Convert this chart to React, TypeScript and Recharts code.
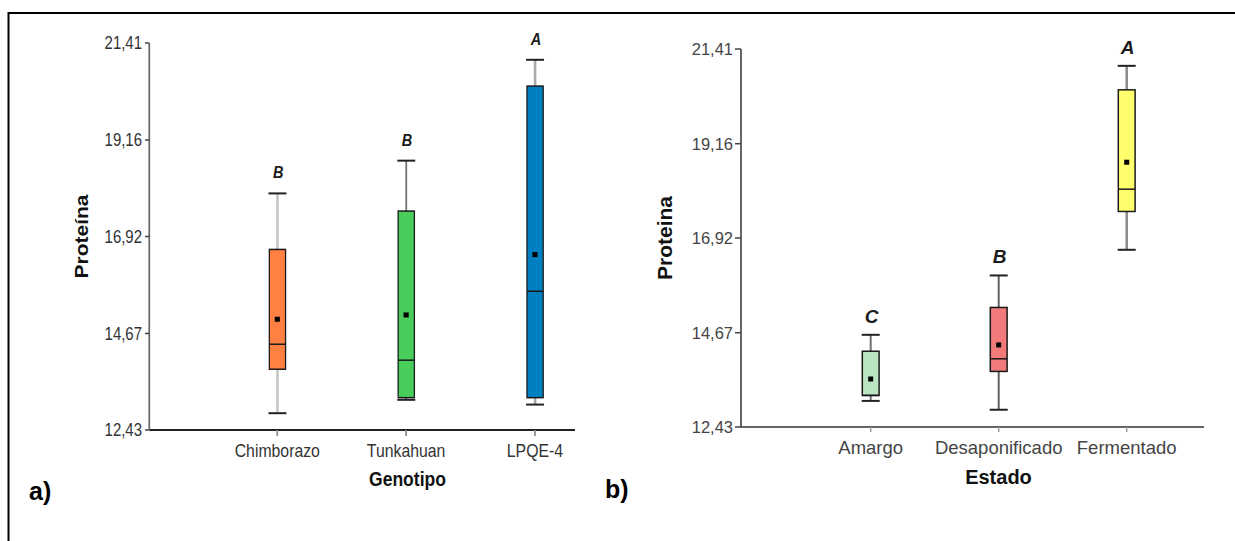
import React from 'react';
import { ComposedChart, Bar, Scatter, XAxis, YAxis, LabelList, Label } from 'recharts';

// ---------- data ----------
const yTicks = [12.43, 14.67, 16.92, 19.16, 21.41];

const genotipos = ['Chimborazo', 'Tunkahuan', 'LPQE-4'];
const genMin = [12.82, 13.13, 13.02];
const genQ1 = [13.84, 13.18, 13.18];
const genMedian = [14.42, 14.05, 15.65];
const genQ3 = [16.62, 17.51, 20.41];
const genMax = [17.92, 18.68, 21.02];
const genMean = [15.0, 15.1, 16.5];
const genLetters = ['B', 'B', 'A'];

const estados = ['Amargo', 'Desaponificado', 'Fermentado'];
const estMin = [13.05, 12.84, 16.64];
const estQ1 = [13.18, 13.75, 17.55];
const estMedian = [13.18, 14.05, 18.08];
const estQ3 = [14.23, 15.27, 20.44];
const estMax = [14.62, 16.03, 21.01];
const estMean = [13.57, 14.38, 18.72];
const estLetters = ['C', 'B', 'A'];

// ---------- styles ----------
const genFill = ['#FF8040', '#48CC5A', '#0080C0'];
const genWhisker = ['#c4c4c4', '#6e6e6e', '#a8a8a8'];
const genWhiskerW = [3, 2, 3];
const estFill = ['#B9E4C2', '#F27A7A', '#FFFF6E'];
const estWhisker = ['#707070', '#606060', '#8a8a8a'];
const estWhiskerW = [2, 2, 2.5];

const fmt = (v: number) => v.toFixed(2).replace('.', ',');

function buildRows(
  cats: string[], mins: number[], q1: number[], med: number[], q3: number[],
  maxs: number[], means: number[], letters: string[]
) {
  return cats.map((c, i) => ({
    cat: c, min: mins[i], q1: q1[i], median: med[i], q3: q3[i], max: maxs[i],
    mean: means[i], letter: letters[i], idx: i,
  }));
}

const genRows = buildRows(genotipos, genMin, genQ1, genMedian, genQ3, genMax, genMean, genLetters);
const estRows = buildRows(estados, estMin, estQ1, estMedian, estQ3, estMax, estMean, estLetters);

const makeBoxShape = (fills: string[], whiskers: string[], whiskerW: number[], inset: number) =>
  (props: any) => {
    const { x, y, width, height, payload } = props;
    const i = payload.idx;
    const h = Math.abs(height);
    const top = height >= 0 ? y : y + height;
    const ppu = h / (payload.max - payload.min);
    const yOf = (v: number) => top + (payload.max - v) * ppu;
    const cx = x + width / 2;
    const yMax = yOf(payload.max);
    const yMin = yOf(payload.min);
    const yQ3 = yOf(payload.q3);
    const yQ1 = yOf(payload.q1);
    const yMed = yOf(payload.median);
    return (
      <g>
        <line x1={cx} x2={cx} y1={yMax} y2={yQ3} stroke={whiskers[i]} strokeWidth={whiskerW[i]} />
        <line x1={cx} x2={cx} y1={yQ1} y2={yMin} stroke={whiskers[i]} strokeWidth={whiskerW[i]} />
        <line x1={x} x2={x + width} y1={yMax} y2={yMax} stroke="#222" strokeWidth={2} />
        <line x1={x} x2={x + width} y1={yMin} y2={yMin} stroke="#222" strokeWidth={2} />
        <rect x={x + inset} y={yQ3} width={width - 2 * inset} height={yQ1 - yQ3}
          fill={fills[i]} stroke="#1a1a1a" strokeWidth={1.5} />
        <line x1={x + inset} x2={x + width - inset} y1={yMed} y2={yMed} stroke="#1a1a1a" strokeWidth={1.5} />
      </g>
    );
  };

const meanShape = (w: number) => (p: any) => (
  <rect x={p.cx - w / 2} y={p.cy - 2.5} width={w} height={5} fill="#000" />
);

const letterContent = (size: number, lift: number) => (p: any) => (
  <text x={p.x + p.width / 2 + 1} y={p.y - lift} textAnchor="middle" fontSize={size}
    fontStyle="italic" fontWeight="bold" fill="#1c1c1c">{p.value}</text>
);

export default function App() {
  return (
    <div style={{ position: 'relative', width: 1235, height: 541, overflow: 'hidden', background: '#fff',
      fontFamily: '"Liberation Sans", Arial, Helvetica, sans-serif' }}>
      <style>{'body{margin:0;}'}</style>

      {/* Left panel (horizontally condensed like the reference) */}
      <div style={{ position: 'absolute', left: 0, top: 0, width: 700, height: 541,
        transform: 'scaleX(0.855)', transformOrigin: '0 0' }}>
        <ComposedChart width={700} height={541} data={genRows}
          margin={{ top: 43, right: 27.5, bottom: 0, left: 0 }}>
          <XAxis dataKey="cat" type="category" height={111} interval={0}
            padding={{ left: 74.4, right: -28.5 }} tickSize={6} tickMargin={8}
            axisLine={{ stroke: '#222', strokeWidth: 2 }}
            tickLine={{ stroke: '#8a8a8a', strokeWidth: 2 }}
            tick={{ fontSize: 18.5, fill: '#333' }}>
            <Label content={(p: any) => (
              <text x={p.viewBox.x + 302} y={p.viewBox.y + 56} textAnchor="middle"
                fontSize={20.5} fontWeight="bold" fill="#111">Genotipo</text>
            )} />
          </XAxis>
          <YAxis type="number" domain={[12.43, 21.41]} ticks={yTicks} tickFormatter={fmt}
            interval={0} width={174.6} tickSize={5} tickMargin={3.5}
            axisLine={{ stroke: '#666', strokeWidth: 2 }}
            tickLine={{ stroke: '#444', strokeWidth: 1.5 }}
            tick={{ fontSize: 17.5, fill: '#333' }}>
            <Label content={(p: any) => {
              const cy = p.viewBox.y + p.viewBox.height / 2;
              return (
                <text x={103.3} y={cy} transform={`rotate(-90, 103.3, ${cy})`} textAnchor="middle"
                  fontSize={21} fontWeight="bold" fill="#111">Proteína</text>
              );
            }} />
          </YAxis>
          <Bar dataKey={(d: any) => [d.min, d.max]} barSize={21} isAnimationActive={false}
            shape={makeBoxShape(genFill, genWhisker, genWhiskerW, 1)}>
            <LabelList dataKey="letter" content={letterContent(17, 15)} />
          </Bar>
          <Scatter dataKey="mean" isAnimationActive={false} shape={meanShape(6)} />
        </ComposedChart>
      </div>

      {/* Right panel */}
      <div style={{ position: 'absolute', left: 615, top: 0, width: 620, height: 541 }}>
        <ComposedChart width={620} height={541} data={estRows}
          margin={{ top: 49, right: 31, bottom: 0, left: 0 }}>
          <XAxis dataKey="cat" type="category" height={114} interval={0}
            padding={{ left: 65.7, right: 13.3 }} tickSize={5} tickMargin={9}
            axisLine={{ stroke: '#333', strokeWidth: 1.5 }}
            tickLine={{ stroke: '#9a9a9a', strokeWidth: 1.5 }}
            tick={{ fontSize: 18.5, fill: '#444' }}>
            <Label content={(p: any) => (
              <text x={p.viewBox.x + 257.5} y={p.viewBox.y + 57} textAnchor="middle"
                fontSize={20} fontWeight="bold" fill="#111">Estado</text>
            )} />
          </XAxis>
          <YAxis type="number" domain={[12.43, 21.41]} ticks={yTicks} tickFormatter={fmt}
            interval={0} width={126} tickSize={6} tickMargin={2}
            axisLine={{ stroke: '#333', strokeWidth: 1.5 }}
            tickLine={{ stroke: '#444', strokeWidth: 1.5 }}
            tick={{ fontSize: 16.5, fill: '#444' }}>
            <Label content={(p: any) => {
              const cy = p.viewBox.y + p.viewBox.height / 2;
              return (
                <text x={57} y={cy} transform={`rotate(-90, 57, ${cy})`} textAnchor="middle"
                  fontSize={21} fontWeight="bold" fill="#111">Proteina</text>
              );
            }} />
          </YAxis>
          <Bar dataKey={(d: any) => [d.min, d.max]} barSize={18} isAnimationActive={false}
            shape={makeBoxShape(estFill, estWhisker, estWhiskerW, 0.6)}>
            <LabelList dataKey="letter" content={letterContent(19, 12)} />
          </Bar>
          <Scatter dataKey="mean" isAnimationActive={false} shape={meanShape(5)} />
        </ComposedChart>
      </div>

      {/* frame and panel tags */}
      <svg width={1235} height={541} style={{ position: 'absolute', left: 0, top: 0, pointerEvents: 'none' }}>
        <line x1={8} x2={1235} y1={13} y2={13} stroke="#000" strokeWidth={2} />
        <line x1={8.5} x2={8.5} y1={12} y2={541} stroke="#000" strokeWidth={2} />
        <text x={29} y={500} fontSize={25} fontWeight="bold" fill="#000">a)</text>
        <text x={605} y={498} fontSize={25} fontWeight="bold" fill="#000">b)</text>
      </svg>
    </div>
  );
}
